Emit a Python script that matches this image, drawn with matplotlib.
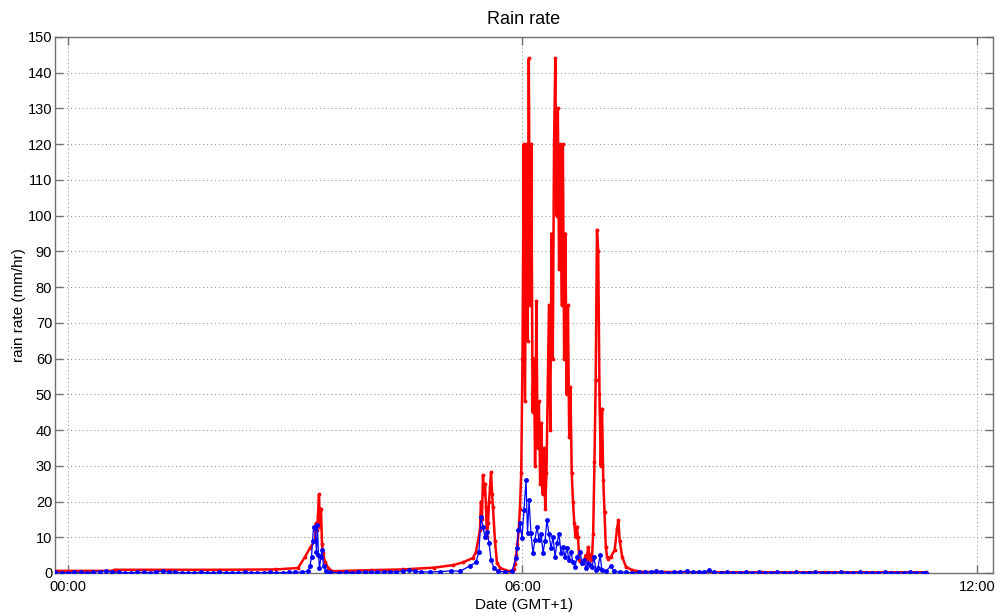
import matplotlib
matplotlib.use("Agg")
import matplotlib.pyplot as plt

plt.rcParams['font.family'] = ['Liberation Sans', 'DejaVu Sans']

# ---- data (time in minutes after 00:00 GMT+1, rain rate in mm/hr) ----
red_t = [-10, 35, 37, 120, 165, 182.2, 187.7, 191.7, 195.6, 196.4, 197.2, 198.0, 198.8,
         199.6, 200.4, 201.2, 202.0, 203.6, 206, 209.1, 240, 265, 290, 305, 313,
         320.8, 323.2, 326.3, 327.1, 327.9, 328.7, 329.5, 330.3, 331.1, 331.9, 332.7,
         333.5, 334.3, 335.1, 335.9, 336.6, 338.2, 339.8, 342.2, 346.2, 350.1,
         352, 353, 354, 355, 356, 357, 358, 359, 360, 361, 362, 363, 364, 365, 366,
         367, 368, 369, 370, 371, 372, 373, 374, 375, 376, 377, 378, 379, 380, 381,
         382, 383, 384, 385, 386, 387, 388, 389, 390, 391, 392, 393, 394, 395, 396,
         397, 398, 399, 400, 401, 402, 403, 404, 405, 406, 407, 408, 409, 410, 411,
         412, 413, 414, 415, 416, 417, 418, 419, 420, 421, 422, 423, 424, 425, 426,
         427, 428, 430, 433, 435, 436, 437, 439, 442, 447, 455, 470, 500, 550, 600, 680]
red_v = [0.6, 0.6, 0.9, 0.9, 1.0, 1.4, 4.5, 7, 9, 14, 12, 16, 22,
         13, 18, 8, 5.6, 3, 1.5, 0.5, 0.8, 1.0, 1.5, 2.2, 3,
         4.2, 6, 12, 20, 15, 27.4, 22, 25, 18.5, 10, 14,
         20, 24, 28.2, 22, 18.5, 9, 2.8, 1.5, 0.8, 0.5,
         0.5, 1, 2.5, 5, 8, 12, 18, 28, 60, 120, 48, 120, 65, 144, 75,
         120, 45, 60, 30, 76, 35, 48, 25, 42, 22, 35, 18, 28, 52, 75,
         40, 95, 60, 120, 144, 100, 130, 85, 120, 75, 120, 60, 95, 50, 75,
         38, 52, 28, 20, 14, 10, 13, 10, 3.6, 3, 3, 2.8, 3.6, 5, 4,
         7.3, 5, 3.6, 4, 11, 31, 54, 96, 90, 50, 30, 46, 26, 17, 7.3,
         4.5, 4, 4.5, 6.4, 12.6, 14.8, 9, 4.5, 1.7, 0.8, 0.3, 0.3, 0.2, 0.2, 0.2, 0.2]

blue_t = [-10, -5, 0, 5, 10, 15, 20, 25, 30, 35, 40, 45, 50, 55, 60, 65, 70, 75, 80,
          85, 90, 95, 100, 105, 110, 115, 120, 125, 130, 135, 140, 145, 150, 155, 160,
          165, 170, 175, 180, 185,
          190.1, 191.7, 192.9, 193.7, 194.5, 195.6, 196.8, 197.6, 198.4, 199.2, 200.4,
          201.2, 202.4, 204.4, 207.5,
          215, 220, 225, 230, 235, 240, 245, 250, 255, 260, 265, 270, 275, 280,
          286.7, 295, 303, 310.5, 318.4, 323.2, 325.5, 327.1, 328.7, 330.3, 331.9,
          333.5, 335.1, 337.4, 340.6, 346.2, 351.7,
          354.9, 355.6, 356.8, 358.0, 359.6, 361.2, 362.8, 364.0, 365.2, 366.7, 368.3,
          369.9, 371.5, 373.1, 374.7, 376.3, 377.8, 379.4, 381.0, 382.6, 384.2, 385.8,
          387.3, 388.9, 390.5, 392.1, 393.7, 395.3, 396.8, 398.4, 400.0, 401.6, 403.2,
          405.6, 407.1, 408.7, 410.3, 411.9, 413.5, 415.1, 416.6, 418.2, 419.8, 421.4,
          423.0, 426.1, 430.1, 432.5, 437.2,
          442, 447, 452, 457, 462, 466, 470, 475, 480, 485, 490, 495, 500, 504, 508,
          512, 517, 522, 527, 532, 537, 542, 547, 552, 557, 562, 567, 572, 577, 582,
          587, 592, 597, 602, 607, 612, 617, 622, 627, 632, 637, 642, 647, 652, 657,
          662, 667, 672, 677, 680]
blue_v = [0.2, 0.1, 0.1, 0.2, 0.2, 0.1, 0.2, 0.4, 0.5, 0.3, 0.2, 0.1, 0.1, 0.2, 0.2, 0.1, 0.4,
          0.5, 0.3, 0.2, 0.1, 0.1, 0.1, 0.2, 0.1, 0.1, 0.2, 0.1, 0.1, 0.1, 0.2, 0.1, 0.1,
          0.1, 0.2, 0.1, 0.1, 0.2, 0.2, 0.3,
          0.5, 2, 4.6, 9, 13, 12.5, 6, 13.4, 5, 1.5, 4.5,
          6.4, 2, 0.5, 0.2,
          0.1, 0.2, 0.1, 0.2, 0.3, 0.2, 0.2, 0.3, 0.4, 0.3, 0.5, 0.8, 0.5, 0.3,
          0.3, 0.4, 0.6, 0.5, 2, 3, 6, 15.7, 13, 10, 11.5,
          8.4, 3.6, 1.4, 0.5, 0.3, 0.5,
          4.2, 7, 12, 14, 9.8, 17.6, 26, 11.2, 20.4, 11.2, 5.6,
          9.2, 13, 9.2, 11, 5.6, 9, 14.8, 11, 7, 10, 4.5,
          8.4, 11, 5.6, 7.3, 4.5, 7, 3.6, 6, 3, 1.7, 4.5,
          6, 2.8, 3.6, 1.4, 2.8, 2.2, 1.7, 4.5, 0.8, 1.4, 5,
          0.8, 0.5, 2, 0.5, 0.2,
          0.2, 0.1, 0.2, 0.2, 0.3, 0.5, 0.2, 0.1, 0.2, 0.3, 0.5, 0.2, 0.2, 0.3, 0.7,
          0.2, 0.1, 0.2, 0.1, 0.1, 0.2, 0.1, 0.2, 0.1, 0.1, 0.2, 0.1, 0.1, 0.2, 0.1,
          0.1, 0.2, 0.1, 0.1, 0.1, 0.2, 0.1, 0.1, 0.2, 0.1, 0.1, 0.1, 0.2, 0.1, 0.1,
          0.1, 0.2, 0.1, 0.1, 0.1]

x_ticks = [0, 360, 720]
x_tick_labels = ['00:00', '06:00', '12:00']
y_ticks = list(range(0, 151, 10))

# ---- figure ----
fig = plt.figure(figsize=(9.99, 6.14), dpi=100)
ax = fig.add_axes([55 / 999, 1 - 573 / 614, (993 - 55) / 999, (573 - 37) / 614])

ax.plot(red_t, red_v, color='#ff0000', lw=1.8, marker='.', markersize=3.5, zorder=3)
ax.plot(blue_t, blue_v, color='#0000ff', lw=0.9, marker='.', markersize=5, zorder=4)

ax.set_xlim(-10.3, 732.7)
ax.set_ylim(0, 150)
ax.set_xticks(x_ticks)
ax.set_xticklabels(x_tick_labels)
ax.set_yticks(y_ticks)

ax.grid(True, linestyle=(0, (1, 3)), color='#666666', linewidth=0.7, alpha=0.8)
ax.set_axisbelow(True)
for s in ax.spines.values():
    s.set_color('#707070')
    s.set_linewidth(1.0)
ax.tick_params(direction='in', top=True, right=True, length=6, width=1.0,
               color='#707070', labelsize=10.5, labelcolor='black', pad=2)
ax.tick_params(axis='x', pad=5)

ax.set_title('Rain rate', fontsize=13, pad=9)
ax.set_xlabel('Date (GMT+1)', fontsize=11, labelpad=3)
ax.set_ylabel('rain rate (mm/hr)', fontsize=11, labelpad=1)

fig.savefig('out.png', dpi=100)
